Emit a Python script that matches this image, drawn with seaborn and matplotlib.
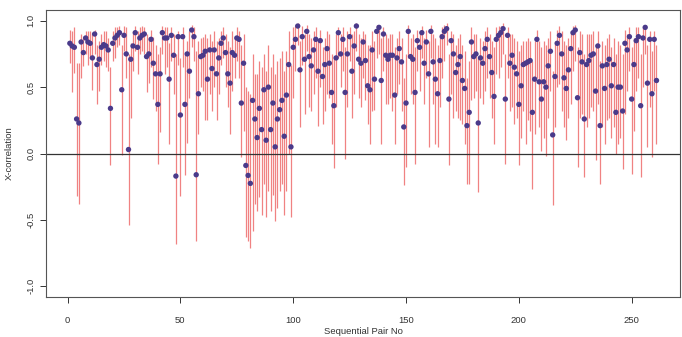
import matplotlib
matplotlib.use("Agg")
import matplotlib.pyplot as plt
import pandas as pd
import seaborn as sns

# cross-correlation per sequential pair, with lower / upper interval ends
r = [0.83, 0.81, 0.80, 0.26, 0.23, 0.84, 0.76, 0.87, 0.84, 0.83, 0.72, 0.90, 0.67, 0.71, 0.80, 0.82, 0.81, 0.78, 0.34, 0.83, 0.87, 0.89, 0.91, 0.48, 0.89,
     0.75, 0.03, 0.71, 0.81, 0.91, 0.80, 0.87, 0.89, 0.90, 0.73, 0.75, 0.86, 0.68, 0.60, 0.37, 0.60, 0.91, 0.87, 0.87, 0.56, 0.89, 0.74, -0.17, 0.88, 0.29, 0.88, 0.37,
     0.75, 0.62, 0.93, 0.88, -0.16, 0.45, 0.73, 0.74, 0.77, 0.56, 0.78, 0.64, 0.78, 0.60, 0.72, 0.83, 0.87, 0.76, 0.60, 0.53, 0.76, 0.74, 0.87, 0.86, 0.38, 0.68, -0.09, -0.165,
     -0.225, 0.40, 0.26, 0.12, 0.34, 0.18, 0.48, 0.10, 0.50, 0.18, 0.38, 0.05, 0.26, 0.33, 0.40, 0.13, 0.44, 0.67, 0.05, 0.80, 0.86, 0.96, 0.63, 0.88, 0.71, 0.92, 0.73,
     0.66, 0.78, 0.86, 0.62, 0.85, 0.58, 0.67, 0.79, 0.68, 0.46, 0.36, 0.72, 0.91, 0.75, 0.86, 0.46, 0.75, 0.88, 0.62, 0.81, 0.96, 0.71, 0.68, 0.84, 0.70, 0.51, 0.48, 0.78,
     0.56, 0.92, 0.95, 0.55, 0.90, 0.74, 0.71, 0.74, 0.74, 0.44, 0.72, 0.79, 0.69, 0.20, 0.38, 0.92, 0.73, 0.71, 0.46, 0.85, 0.80, 0.91, 0.68, 0.84, 0.60, 0.92, 0.69,
     0.56, 0.45, 0.70, 0.88, 0.92, 0.94, 0.41, 0.85, 0.75, 0.61, 0.67, 0.73, 0.55, 0.49, 0.21, 0.31, 0.84, 0.73, 0.75, 0.23, 0.72, 0.68, 0.79, 0.86, 0.73, 0.61, 0.43, 0.86,
     0.89, 0.91, 0.94, 0.41, 0.89, 0.68, 0.74, 0.65, 0.60, 0.37, 0.51, 0.67, 0.68, 0.69, 0.70, 0.31, 0.56, 0.86, 0.54, 0.41, 0.54, 0.50, 0.66, 0.77, 0.14, 0.58, 0.83,
     0.89, 0.75, 0.57, 0.49, 0.63, 0.79, 0.91, 0.93, 0.42, 0.76, 0.69, 0.26, 0.67, 0.70, 0.74, 0.75, 0.47, 0.81, 0.21, 0.66, 0.49, 0.67, 0.71, 0.51, 0.67, 0.31, 0.50,
     0.50, 0.32, 0.83, 0.78, 0.88, 0.41, 0.67, 0.85, 0.88, 0.36, 0.87, 0.95, 0.53, 0.86, 0.45, 0.86, 0.55]

hi = [0.93, 0.92, 0.95, 0.68, 0.68, 0.90, 0.87, 0.92, 0.92, 0.92, 0.91, 0.93, 0.82, 0.85, 0.90, 0.92, 0.92, 0.87, 0.65, 0.92, 0.95, 0.95, 0.96, 0.82, 0.96,
      0.95, 0.75, 0.83, 0.92, 0.96, 0.92, 0.95, 0.96, 0.95, 0.90, 0.88, 0.93, 0.88, 0.82, 0.75, 0.80, 0.96, 0.95, 0.95, 0.83, 0.95, 0.90, 0.75, 0.92, 0.72, 0.95, 0.75,
      0.85, 0.92, 0.97, 0.95, 0.77, 0.85, 0.87, 0.88, 0.90, 0.87, 0.90, 0.85, 0.92, 0.85, 0.87, 0.92, 0.95, 0.90, 0.85, 0.80, 0.92, 0.87, 0.95, 0.92, 0.82, 0.90, 0.50, 0.47,
      0.45, 0.75, 0.60, 0.60, 0.70, 0.65, 0.75, 0.62, 0.82, 0.65, 0.75, 0.60, 0.70, 0.72, 0.77, 0.62, 0.77, 0.92, 0.67, 0.95, 0.96, 0.985, 0.85, 0.96, 0.90, 0.97, 0.90,
      0.87, 0.92, 0.95, 0.85, 0.93, 0.80, 0.87, 0.92, 0.90, 0.75, 0.72, 0.90, 0.95, 0.90, 0.95, 0.80, 0.92, 0.95, 0.90, 0.92, 0.985, 0.90, 0.87, 0.92, 0.90, 0.82, 0.82, 0.92,
      0.85, 0.97, 0.97, 0.87, 0.95, 0.90, 0.87, 0.90, 0.90, 0.80, 0.87, 0.92, 0.87, 0.57, 0.75, 0.97, 0.87, 0.90, 0.80, 0.93, 0.92, 0.96, 0.87, 0.93, 0.85, 0.97, 0.90,
      0.87, 0.82, 0.90, 0.95, 0.97, 0.985, 0.75, 0.92, 0.90, 0.82, 0.87, 0.90, 0.82, 0.77, 0.57, 0.70, 0.95, 0.90, 0.90, 0.72, 0.87, 0.85, 0.92, 0.95, 0.90, 0.85, 0.80, 0.95,
      0.96, 0.96, 0.985, 0.75, 0.95, 0.90, 0.90, 0.87, 0.85, 0.77, 0.82, 0.85, 0.85, 0.87, 0.85, 0.70, 0.85, 0.93, 0.85, 0.80, 0.85, 0.82, 0.87, 0.92, 0.62, 0.85, 0.93,
      0.96, 0.92, 0.85, 0.82, 0.87, 0.92, 0.96, 0.97, 0.80, 0.92, 0.90, 0.75, 0.90, 0.90, 0.90, 0.92, 0.80, 0.92, 0.70, 0.85, 0.82, 0.87, 0.90, 0.80, 0.87, 0.75, 0.85,
      0.82, 0.75, 0.93, 0.90, 0.95, 0.80, 0.87, 0.95, 0.95, 0.75, 0.95, 0.97, 0.82, 0.92, 0.77, 0.92, 0.82]

lo = [0.68, 0.46, 0.61, -0.32, -0.38, 0.57, 0.66, 0.75, 0.67, 0.72, 0.48, 0.75, 0.37, 0.47, 0.67, 0.70, 0.65, 0.62, -0.09, 0.70, 0.72, 0.80, 0.82, -0.01, 0.77,
      0.57, -0.54, 0.27, 0.62, 0.77, 0.60, 0.75, 0.77, 0.75, 0.46, 0.53, 0.65, 0.41, 0.32, -0.08, 0.16, 0.75, 0.60, 0.65, 0.07, 0.70, 0.45, -0.68, 0.67, -0.32, 0.65, -0.16,
      0.08, 0.42, 0.80, 0.70, -0.66, 0.15, 0.50, 0.47, 0.25, 0.25, 0.45, 0.32, 0.50, 0.25, 0.45, 0.67, 0.72, 0.50, 0.35, 0.15, 0.47, 0.57, 0.70, 0.57, -0.03, 0.17, -0.63, -0.66,
      -0.71, -0.58, -0.38, -0.43, -0.33, -0.46, -0.23, -0.48, -0.28, -0.43, -0.31, -0.51, -0.41, -0.28, -0.23, -0.46, -0.28, 0.00, -0.48, 0.42, 0.62, 0.82, 0.20, 0.67, 0.30, 0.77, 0.35,
      0.32, 0.45, 0.57, 0.21, 0.50, 0.22, 0.32, 0.45, 0.42, 0.07, -0.11, 0.35, 0.72, 0.50, 0.62, -0.04, 0.35, 0.70, 0.27, 0.45, 0.77, 0.42, 0.35, 0.57, 0.40, 0.22, 0.07, 0.32,
      0.33, 0.72, 0.75, 0.07, 0.62, 0.37, 0.37, 0.42, 0.32, 0.07, 0.45, 0.52, 0.32, -0.24, -0.105, 0.72, 0.45, 0.37, -0.08, 0.62, 0.47, 0.72, 0.37, 0.57, 0.05, 0.72, 0.37,
      0.07, 0.05, 0.35, 0.57, 0.70, 0.82, -0.09, 0.45, 0.27, 0.32, 0.27, 0.25, 0.22, 0.07, -0.23, -0.23, 0.40, 0.42, 0.47, -0.29, 0.42, 0.37, 0.47, 0.57, 0.42, 0.27, 0.07, 0.60,
      0.57, 0.65, 0.75, -0.08, 0.57, 0.32, 0.35, 0.22, 0.27, -0.09, 0.12, 0.32, 0.07, 0.25, 0.17, -0.27, 0.15, 0.57, 0.20, 0.02, 0.12, -0.02, 0.27, 0.47, -0.39, 0.20, 0.50,
      0.52, 0.32, 0.20, 0.10, 0.27, 0.37, 0.62, 0.70, -0.105, 0.27, 0.30, -0.18, 0.20, 0.27, 0.35, 0.32, -0.05, 0.37, -0.23, 0.20, 0.07, 0.25, 0.27, 0.12, 0.20, -0.005, 0.07,
      0.12, -0.12, 0.30, 0.47, 0.62, -0.155, 0.17, 0.47, 0.57, -0.18, 0.50, 0.75, 0.05, 0.35, -0.03, 0.47, 0.07]

pair_no = list(range(1, len(r) + 1))

x_ticks = [0, 50, 100, 150, 200, 250]
y_ticks = [-1.0, -0.5, 0.0, 0.5, 1.0]
y_tick_labels = ["-1.0", "-0.5", "0.0", "0.5", "1.0"]

df = pd.DataFrame({"pair": pair_no, "r": r, "lo": lo, "hi": hi})

sns.set_style("ticks")
plt.rcParams["font.family"] = ["Liberation Sans", "DejaVu Sans"]

fig = plt.figure(figsize=(6.82, 3.37), dpi=100)
ax = fig.add_axes([0.068, 0.119, 0.929, 0.851])

# interval bars, zero line, then the points on top
ax.vlines(df["pair"], df["lo"], df["hi"], color="#f08282", lw=0.9, zorder=1)
ax.axhline(0, color="#333333", lw=0.9, zorder=2)
sns.scatterplot(data=df, x="pair", y="r", color="#4a3a8a", s=15,
                edgecolor="none", ax=ax, zorder=3)

ax.set_xlim(-9.4, 271.4)
ax.set_ylim(-1.08, 1.08)
ax.set_xticks(x_ticks)
ax.set_yticks(y_ticks)
ax.set_yticklabels(y_tick_labels, rotation=90, va="center")
ax.tick_params(axis="x", direction="out", length=4, width=0.7, pad=10,
               labelsize=6.8, colors="#333333")
ax.tick_params(axis="y", direction="out", length=4, width=0.7, pad=4,
               labelsize=6.8, colors="#333333")
ax.set_xlabel("")
ax.set_ylabel("")
for sp in ax.spines.values():
    sp.set_visible(True)
    sp.set_color("#555555")
    sp.set_linewidth(0.8)

fig.text(363 / 682, 1 - 331.5 / 337, "Sequential Pair No", ha="center", va="center",
         fontsize=6.8, color="#333333")
fig.text(9 / 682, 1 - 153 / 337, "X-correlation", ha="center", va="center",
         rotation=90, fontsize=6.8, color="#333333")

fig.savefig("out.png", dpi=100)
